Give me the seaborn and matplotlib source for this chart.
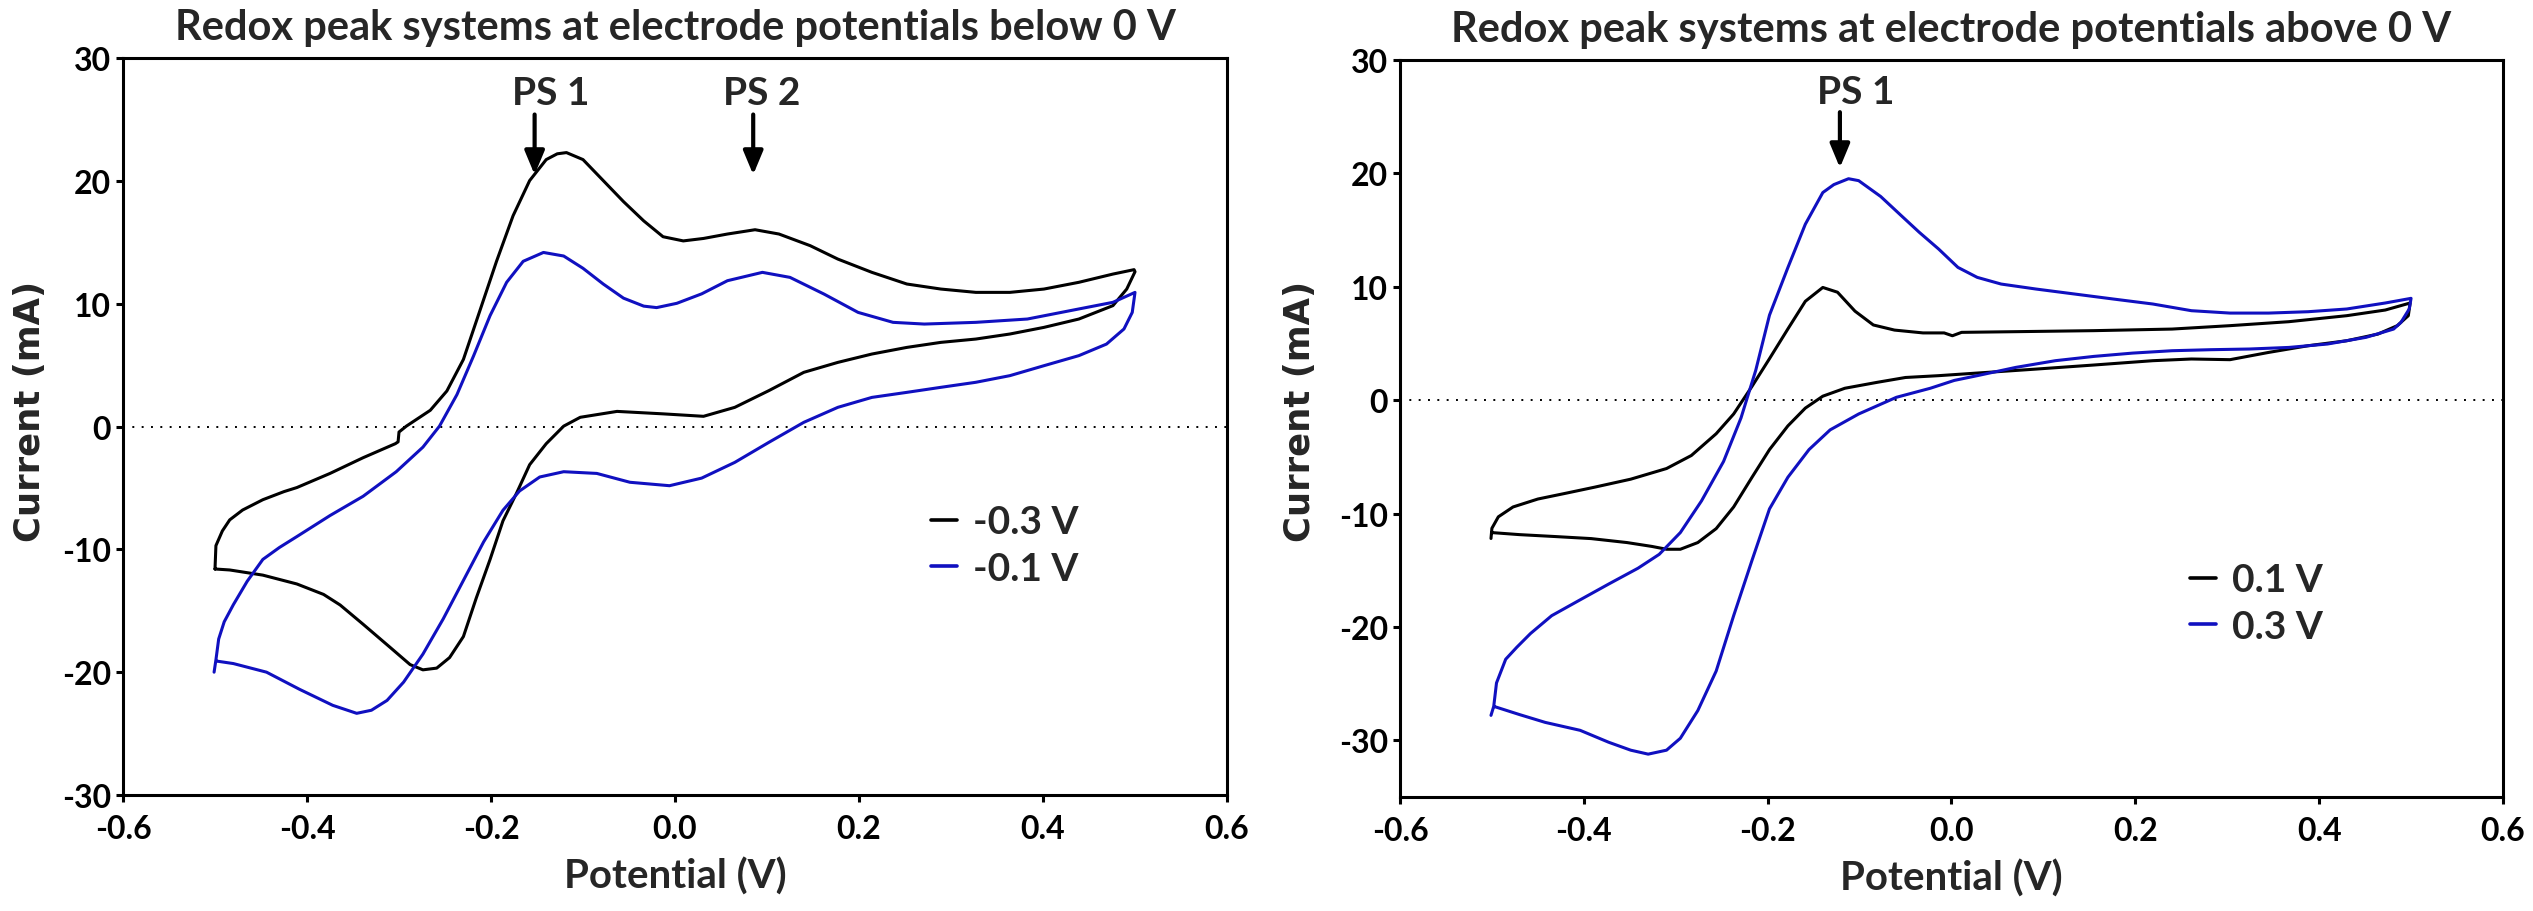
import numpy as np
import pandas as pd
import matplotlib
matplotlib.use("Agg")
import matplotlib.pyplot as plt
import seaborn as sns

# ---- data (potential in V, current in mA), one full loop per scan ----
# left panel, -0.3 V
e_m03 = [-0.500, -0.499, -0.492, -0.484, -0.470, -0.448, -0.425, -0.411, -0.375, -0.339, -0.304, -0.301,
         -0.300, -0.292, -0.266, -0.248, -0.230, -0.212, -0.194, -0.176, -0.158, -0.140, -0.128, -0.118,
         -0.100, -0.078, -0.056, -0.034, -0.013, 0.009, 0.031, 0.057, 0.087, 0.113, 0.147, 0.177, 0.214,
         0.252, 0.289, 0.327, 0.364, 0.401, 0.439, 0.476, 0.499, 0.500, 0.491, 0.476, 0.439, 0.401, 0.364,
         0.327, 0.289, 0.252, 0.214, 0.177, 0.140, 0.102, 0.065, 0.031, -0.013, -0.063, -0.103, -0.121,
         -0.140, -0.158, -0.172, -0.187, -0.201, -0.216, -0.230, -0.245, -0.259, -0.274, -0.288, -0.310,
         -0.339, -0.364, -0.382, -0.411, -0.448, -0.484, -0.500]
i_m03 = [-11.6, -9.7, -8.5, -7.6, -6.8, -5.96, -5.3, -4.97, -3.82, -2.54, -1.40, -1.25,
         -0.45, 0.03, 1.32, 2.89, 5.46, 9.45, 13.45, 17.16, 20.02, 21.73, 22.2, 22.3,
         21.73, 20.02, 18.31, 16.74, 15.45, 15.11, 15.31, 15.67, 16.02, 15.67, 14.72, 13.63, 12.55,
         11.6, 11.19, 10.92, 10.92, 11.19, 11.74, 12.41, 12.77, 12.6, 11.19, 9.84, 8.75, 8.07, 7.53,
         7.12, 6.85, 6.44, 5.9, 5.22, 4.41, 2.92, 1.56, 0.83, 1.03, 1.23, 0.75, 0.03,
         -1.40, -3.11, -5.39, -7.68, -10.82, -13.96, -17.1, -18.81, -19.67, -19.81, -19.38, -17.96,
         -16.1, -14.53, -13.67, -12.82, -12.1, -11.68, -11.6]

# left panel, -0.1 V
e_m01 = [-0.501, -0.499, -0.496, -0.490, -0.480, -0.465, -0.448, -0.430, -0.411, -0.375, -0.339, -0.303,
         -0.274, -0.256, -0.237, -0.219, -0.201, -0.183, -0.165, -0.143, -0.121, -0.100, -0.078, -0.056,
         -0.034, -0.020, 0.002, 0.029, 0.057, 0.095, 0.125, 0.162, 0.199, 0.237, 0.271, 0.327, 0.383,
         0.439, 0.476, 0.500, 0.497, 0.488, 0.469, 0.439, 0.401, 0.364, 0.327, 0.289, 0.252, 0.214, 0.177,
         0.140, 0.102, 0.065, 0.029, -0.006, -0.049, -0.085, -0.121, -0.147, -0.169, -0.187, -0.208,
         -0.230, -0.252, -0.274, -0.295, -0.313, -0.330, -0.346, -0.372, -0.408, -0.444, -0.480, -0.498]
i_m01 = [-20.0, -19.0, -17.3, -15.9, -14.5, -12.6, -10.82, -9.85, -8.96, -7.25, -5.68, -3.68,
         -1.68, 0.03, 2.60, 5.74, 9.03, 11.74, 13.45, 14.17, 13.88, 12.88, 11.6, 10.45,
         9.80, 9.68, 10.03, 10.8, 11.87, 12.55, 12.14, 10.78, 9.29, 8.48, 8.34, 8.48, 8.75,
         9.57, 10.11, 10.92, 9.29, 7.94, 6.71, 5.77, 4.95, 4.14, 3.6, 3.19, 2.78, 2.37, 1.56,
         0.34, -1.29, -2.92, -4.2, -4.82, -4.54, -3.82, -3.68, -4.11, -5.25, -6.82, -9.39,
         -12.53, -15.67, -18.53, -20.81, -22.3, -23.1, -23.35, -22.7, -21.4, -20.0, -19.3, -19.1]

# right panel, 0.1 V
e_p01 = [-0.501, -0.500, -0.493, -0.477, -0.450, -0.419, -0.388, -0.349, -0.310, -0.283, -0.256, -0.237,
         -0.217, -0.198, -0.178, -0.159, -0.140, -0.124, -0.105, -0.085, -0.062, -0.031, -0.008, 0.001,
         0.011, 0.070, 0.155, 0.240, 0.303, 0.367, 0.430, 0.472, 0.499, 0.497, 0.485, 0.464, 0.430, 0.388,
         0.345, 0.303, 0.261, 0.219, 0.155, 0.092, 0.028, -0.014, -0.050, -0.081, -0.116, -0.140, -0.159,
         -0.178, -0.198, -0.217, -0.237, -0.256, -0.276, -0.295, -0.310, -0.326, -0.353, -0.392, -0.431,
         -0.470, -0.500]
i_p01 = [-12.2, -11.3, -10.29, -9.42, -8.72, -8.2, -7.67, -6.97, -6.03, -4.88, -2.96, -1.22,
         1.22, 3.66, 6.28, 8.72, 9.94, 9.52, 7.85, 6.63, 6.18, 5.93, 5.93, 5.68,
         5.98, 6.04, 6.13, 6.27, 6.57, 6.92, 7.45, 7.95, 8.57, 7.45, 6.57, 5.83, 5.24, 4.8,
         4.21, 3.57, 3.63, 3.48, 3.1, 2.74, 2.39, 2.16, 2.0, 1.57, 1.05, 0.35, -0.70,
         -2.27, -4.36, -6.80, -9.42, -11.33, -12.56, -13.15, -13.15, -12.9, -12.56, -12.21, -12.03,
         -11.86, -11.68]

# right panel, 0.3 V
e_p03 = [-0.501, -0.498, -0.495, -0.485, -0.473, -0.458, -0.435, -0.404, -0.373, -0.341, -0.318, -0.295,
         -0.272, -0.248, -0.229, -0.213, -0.198, -0.178, -0.159, -0.140, -0.128, -0.112, -0.101, -0.077,
         -0.055, -0.035, -0.014, 0.007, 0.028, 0.054, 0.092, 0.134, 0.176, 0.219, 0.261, 0.303, 0.345,
         0.388, 0.430, 0.472, 0.500, 0.498, 0.489, 0.481, 0.451, 0.409, 0.367, 0.324, 0.282, 0.240, 0.197,
         0.155, 0.113, 0.070, 0.028, 0.003, -0.023, -0.060, -0.101, -0.132, -0.155, -0.178, -0.198,
         -0.217, -0.237, -0.256, -0.276, -0.295, -0.310, -0.330, -0.349, -0.373, -0.404, -0.442, -0.470,
         -0.497]
i_p03 = [-27.8, -27.0, -24.94, -22.85, -21.8, -20.58, -19.01, -17.61, -16.22, -14.82, -13.6, -11.68,
         -8.89, -5.41, -1.57, 2.62, 7.50, 11.69, 15.52, 18.31, 19.01, 19.53, 19.36, 17.96,
         16.3, 14.8, 13.33, 11.71, 10.83, 10.24, 9.8, 9.36, 8.92, 8.48, 7.89, 7.68, 7.68,
         7.8, 8.04, 8.57, 8.98, 8.04, 6.86, 6.27, 5.54, 4.95, 4.65, 4.51, 4.45, 4.36, 4.15,
         3.86, 3.48, 2.89, 2.16, 1.74, 1.05, 0.25, -1.22, -2.62, -4.36, -6.80, -9.59,
         -14.12, -19.01, -23.89, -27.38, -29.82, -30.87, -31.22, -30.87, -30.17, -29.12, -28.42, -27.73,
         -27.03]

left_labels = ["-0.3 V", "-0.1 V"]
right_labels = ["0.1 V", "0.3 V"]
titles = ["Redox peak systems at electrode potentials below 0 V",
          "Redox peak systems at electrode potentials above 0 V"]
x_ticks = [-0.6, -0.4, -0.2, 0.0, 0.2, 0.4, 0.6]
y_ticks = [-30, -20, -10, 0, 10, 20, 30]

# peak-system arrows: (label, arrow x, text x)
left_marks = [("PS 1", -0.1526, -0.135), ("PS 2", 0.085, 0.094)]
right_marks = [("PS 1", -0.1214, -0.104)]


def loop_frame(pairs):
    parts = []
    for lab, e, i in pairs:
        parts.append(pd.DataFrame({"Potential": e, "Current": i, "scan": lab}))
    return pd.concat(parts, ignore_index=True)


df_left = loop_frame([(left_labels[0], e_m03, i_m03), (left_labels[1], e_m01, i_m01)])
df_right = loop_frame([(right_labels[0], e_p01, i_p01), (right_labels[1], e_p03, i_p03)])

sns.set_theme(style="ticks")
plt.rcParams["font.family"] = ["Lato", "DejaVu Sans"]
plt.rcParams["axes.unicode_minus"] = False

palette = ["#000000", "#1010C0"]
fig = plt.figure(figsize=(25.33, 9.12), dpi=100)
ax1 = fig.add_axes([0.04856, 0.12719, 0.43585, 0.80811])
ax2 = fig.add_axes([0.55270, 0.12500, 0.43545, 0.80811])

setups = [
    (ax1, df_left, left_labels, titles[0], (-30, 30), left_marks, (0.7316, 0.339), -0.084, 0.522, 26.28),
    (ax2, df_right, right_labels, titles[1], (-35, 30), right_marks, (0.7162, 0.263), -0.0907, 0.525, 26.25),
]

for ax, df, labs, title, ylim, marks, leg_xy, ylab_x, ylab_y, txt_y in setups:
    ax.axhline(0, color="black", lw=1.4, ls=(0, (1, 3.8)), zorder=1)
    sns.lineplot(data=df, x="Potential", y="Current", hue="scan", hue_order=labs,
                 palette=palette, sort=False, estimator=None, lw=2.2, ax=ax, zorder=3)
    ax.set_xlim(-0.6, 0.6)
    ax.set_ylim(*ylim)
    ax.set_xticks(x_ticks)
    ax.set_xticklabels([f"{t:.1f}" for t in x_ticks])
    ax.set_yticks(y_ticks)
    ax.set_yticklabels([str(t) for t in y_ticks])
    for s in ax.spines.values():
        s.set_linewidth(2.2)
        s.set_color("black")
    ax.tick_params(axis="both", direction="out", length=5, width=2.2, color="black",
                   labelsize=23, labelcolor="black")
    ax.tick_params(axis="x", pad=9)
    ax.tick_params(axis="y", pad=3.5)
    for lab in ax.get_xticklabels() + ax.get_yticklabels():
        lab.set_fontweight("bold")

    ax.set_title(title, fontsize=30, fontweight="bold", pad=14)
    ax.set_xlabel("Potential (V)", fontsize=29, fontweight="bold", va="top")
    ax.xaxis.set_label_coords(0.5, -0.084)
    ax.set_ylabel("Current (mA)", fontsize=25.5, fontweight="bold", family="DejaVu Sans", va="center")
    ax.yaxis.set_label_coords(ylab_x, ylab_y)

    for name, xa, xt in marks:
        ax.annotate("", xy=(xa, 20.5), xytext=(xa, 25.4),
                    arrowprops=dict(arrowstyle="-|>,head_length=0.6,head_width=0.25",
                                    color="black", lw=3, mutation_scale=24,
                                    shrinkA=0, shrinkB=0))
        ax.text(xt, txt_y, name, ha="center", va="baseline", fontsize=28, fontweight="bold")

    sns.move_legend(ax, "center left", bbox_to_anchor=leg_xy, frameon=False, title=None,
                    prop={"weight": "bold", "size": 28}, handlelength=0.67, handletextpad=0.42,
                    labelspacing=0.3, borderpad=0, borderaxespad=0)
    for line in ax.get_legend().get_lines():
        line.set_linewidth(2.6)

fig.savefig("out.png", dpi=100)
